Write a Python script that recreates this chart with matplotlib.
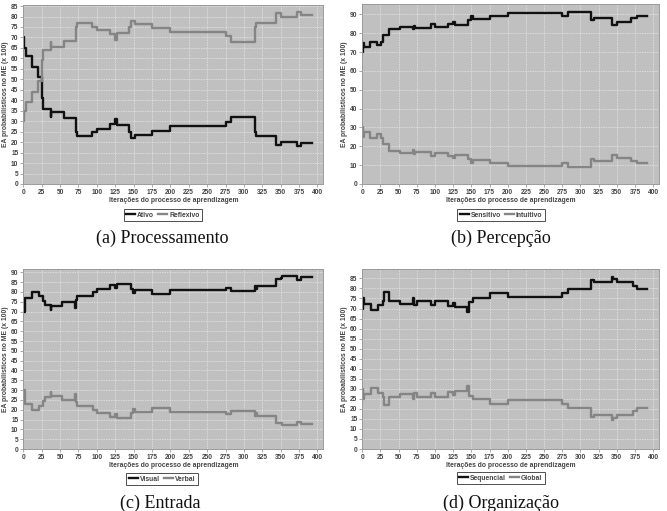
import matplotlib
matplotlib.use("Agg")
import matplotlib.pyplot as plt
import numpy as np

# ---------------- data ----------------
a_x = [0, 1, 3, 12, 20, 25, 27, 37, 38, 55, 71, 73, 93, 100, 118, 125, 127, 144, 146, 152, 175, 200, 275, 283, 315, 317, 343, 350, 372, 377, 392]
a_ativo = [70, 65, 61, 56, 51, 41, 36, 32, 34.5, 31.5, 25, 23, 25, 26.5, 28.5, 31, 28, 25, 22, 23.5, 25.5, 27.5, 29.5, 32, 25, 23, 18.5, 20, 18, 19.5, 19.5]
a_reflexivo = [30, 35, 39, 44, 49, 59, 64, 68, 65.5, 68.5, 75, 77, 75, 73.5, 71.5, 69, 72, 75, 78, 76.5, 74.5, 72.5, 70.5, 68, 75, 77, 81.5, 80, 82, 80.5, 80.5]

b_x = [0, 1, 2, 10, 20, 26, 28, 37, 52, 70, 71, 73, 95, 100, 118, 125, 127, 146, 149, 152, 175, 200, 275, 283, 315, 318, 344, 350, 370, 378, 392]
b_sensitivo = [70, 75, 72.5, 75.5, 73.5, 75.5, 79, 82.5, 83.5, 82, 84, 83, 85, 83.5, 85, 86, 84.5, 87, 89, 87.5, 89, 90.5, 89, 91, 87, 88, 84.5, 86, 88, 89, 89]
b_intuitivo = [30, 25, 27.5, 24.5, 26.5, 24.5, 21, 17.5, 16.5, 18, 16, 17, 15, 16.5, 15, 14, 15.5, 13, 11, 12.5, 11, 9.5, 11, 9, 13, 12, 15.5, 14, 12, 11, 11]

c_x = [0, 2, 12, 22, 27, 29, 37, 38, 52, 70, 71, 73, 95, 100, 118, 125, 127, 146, 149, 152, 175, 200, 275, 283, 315, 316, 318, 343, 350, 352, 372, 377, 392]
c_visual = [70, 77, 80, 78, 75.5, 73.5, 71, 73, 75, 72, 76, 78, 80, 81.5, 83.5, 82, 84, 81.5, 79.5, 81, 79, 81, 82, 80.5, 83, 81.5, 83, 86.5, 87, 88, 86, 87.5, 87.5]
c_verbal = [30, 23, 20, 22, 24.5, 26.5, 29, 27, 25, 28, 24, 22, 20, 18.5, 16.5, 18, 16, 18.5, 20.5, 19, 21, 19, 18, 19.5, 17, 18.5, 17, 13.5, 13, 12, 14, 12.5, 12.5]

d_x = [0, 1, 3, 12, 22, 28, 30, 37, 52, 70, 71, 75, 95, 100, 118, 125, 127, 144, 147, 152, 175, 200, 275, 283, 315, 318, 343, 345, 350, 372, 378, 392]
d_sequencial = [70, 75, 72.5, 69.5, 72, 74, 78, 74, 72.5, 75, 72, 74, 72, 74, 71.5, 73, 71, 68.5, 73.5, 75, 77.5, 75.5, 77.5, 79.5, 84, 83, 85.5, 84.5, 83, 81, 79.5, 79.5]
d_global = [30, 25, 27.5, 30.5, 28, 26, 22, 26, 27.5, 25, 28, 26, 28, 26, 28.5, 27, 29, 31.5, 26.5, 25, 22.5, 24.5, 22.5, 20.5, 16, 17, 14.5, 15.5, 17, 19, 20.5, 20.5]

panels = [
    dict(x=a_x, s1=a_ativo, s2=a_reflexivo, n1="Ativo", n2="Reflexivo",
         cap="(a) Processamento", ymax=85.5, ystep=5),
    dict(x=b_x, s1=b_sensitivo, s2=b_intuitivo, n1="Sensitivo", n2="Intuitivo",
         cap="(b) Percepção", ymax=95.5, ystep=10),
    dict(x=c_x, s1=c_visual, s2=c_verbal, n1="Visual", n2="Verbal",
         cap="(c) Entrada", ymax=91.7, ystep=5),
    dict(x=d_x, s1=d_sequencial, s2=d_global, n1="Sequencial", n2="Global",
         cap="(d) Organização", ymax=89.7, ystep=5),
]

W, H = 667, 511
fig = plt.figure(figsize=(W / 100, H / 100), dpi=100)

# axes boxes in pixels: left, top, right, bottom
boxes = [(23.3, 5, 323.3, 184), (362.3, 4, 659, 184),
         (23.3, 269, 323.3, 449), (362.3, 269, 659, 449)]
ylabel_x = [6, 344, 6, 344]
xlabel_y = [201, 201, 465, 465]
legend_c = [(163, 215), (501, 215), (162, 479), (501, 478)]
caption_c = [(162, 238), (501, 238), (160, 503), (501, 503)]

tick_font = dict(family="Liberation Sans", size=4.8, weight="bold")
lab_font = dict(family="Liberation Sans", size=4.9, weight="bold")
txtcol = "#444444"

for p, box, ylx, xly, lc, cc in zip(panels, boxes, ylabel_x, xlabel_y, legend_c, caption_c):
    l, t, r, b = box
    ax = fig.add_axes([l / W, 1 - b / H, (r - l) / W, (b - t) / H])
    ax.set_facecolor("#c0c0c0")
    h1, = ax.plot(p["x"], p["s1"], drawstyle="steps-post", color="#111111", lw=1.7, label=p["n1"])
    h2, = ax.plot(p["x"], p["s2"], drawstyle="steps-post", color="#858585", lw=1.7, label=p["n2"])
    ax.set_xlim(0, 408)
    ax.set_ylim(0, p["ymax"])
    ax.set_xticks(np.arange(0, 401, 25))
    ax.set_yticks(np.arange(0, p["ymax"], p["ystep"]))
    ax.grid(True, color="#e8e8e8", lw=0.5, ls=(0, (2, 1.5)))
    ax.set_axisbelow(True)
    for s in ax.spines.values():
        s.set_color("#9a9a9a")
        s.set_linewidth(0.7)
    ax.tick_params(length=2, width=0.5, color="#888888", pad=1.5, labelcolor=txtcol)
    for lbl in ax.get_xticklabels() + ax.get_yticklabels():
        lbl.set_fontproperties(matplotlib.font_manager.FontProperties(**tick_font))
    fig.text(((l + r) / 2) / W, 1 - xly / H, "Iterações do processo de aprendizagem",
             ha="center", va="center", color=txtcol, **lab_font)
    fig.text(ylx / W, 1 - ((t + b) / 2) / H, "EA probabilísticos no ME (x 100)",
             ha="center", va="center", rotation=90, color=txtcol, **lab_font)
    leg = fig.legend(handles=[h1, h2], loc="center", bbox_to_anchor=(lc[0] / W, 1 - lc[1] / H),
                     ncol=2, frameon=True, fancybox=False, handlelength=1.3, handletextpad=0.3,
                     columnspacing=0.6, borderpad=0.4, borderaxespad=0,
                     prop=matplotlib.font_manager.FontProperties(**lab_font))
    leg.get_frame().set_edgecolor("#222222")
    leg.get_frame().set_linewidth(0.7)
    for txt in leg.get_texts():
        txt.set_color(txtcol)
    fig.text(cc[0] / W, 1 - cc[1] / H, p["cap"], ha="center", va="center",
             family="Liberation Serif", size=13, color="#111111")

fig.savefig("out.png", dpi=100)
